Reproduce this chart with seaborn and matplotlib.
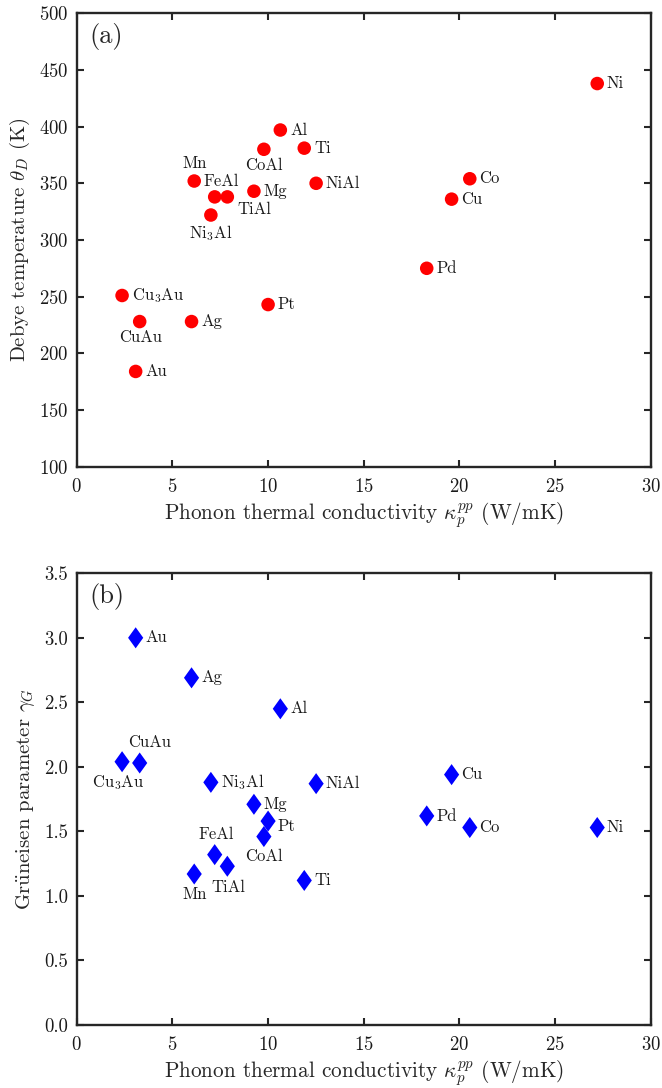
import matplotlib
matplotlib.use("Agg")
import matplotlib.pyplot as plt
import seaborn as sns
import numpy as np

materials = ["Ni", "Al", "CoAl", "Ti", "Mn", "FeAl", "TiAl", "Mg", "NiAl", "Ni$_3$Al",
             "Cu$_3$Au", "CuAu", "Ag", "Pt", "Au", "Co", "Cu", "Pd"]
kappa = [27.2, 10.64, 9.78, 11.89, 6.14, 7.21, 7.87, 9.26, 12.51, 7.01,
         2.37, 3.29, 6.0, 10.0, 3.08, 20.54, 19.59, 18.29]
debye = [438, 397, 380, 381, 352, 338, 338, 343, 350, 322,
         251, 228, 228, 243, 184, 354, 336, 275]
gruneisen = [1.53, 2.45, 1.46, 1.12, 1.17, 1.32, 1.23, 1.71, 1.87, 1.88,
             2.04, 2.03, 2.69, 1.58, 3.00, 1.53, 1.94, 1.62]

# label placement (offset in points, ha, va) per material for each panel
R = ((7, 0), "left", "center")
pos_a = {"Mn": ((0, 7), "center", "bottom"), "FeAl": ((5, 6), "center", "bottom"),
         "TiAl": ((7, -9), "left", "center"), "CoAl": ((0, -6), "center", "top"),
         "Ni$_3$Al": ((0, -6), "center", "top"), "CuAu": ((1, -6), "center", "top")}
pos_b = {"CuAu": ((7, 9), "center", "bottom"), "Cu$_3$Au": ((-3, -8), "center", "top"),
         "FeAl": ((1, 9), "center", "bottom"), "CoAl": ((0, -9), "center", "top"),
         "Pt": ((7, -4), "left", "center"), "TiAl": ((1, -10), "center", "top"),
         "Mn": ((0, -9), "center", "top")}

sns.set_style("ticks")
plt.rcParams["font.family"] = ["cmr10", "DejaVu Serif"]
plt.rcParams["mathtext.fontset"] = "cm"
plt.rcParams["axes.formatter.use_mathtext"] = True
plt.rcParams["axes.unicode_minus"] = False

fig = plt.figure(figsize=(6.62, 10.88), dpi=100)
ax1 = fig.add_axes([0.1159, 0.5711, 0.8672, 0.4167])
ax2 = fig.add_axes([0.1159, 0.0579, 0.8672, 0.4152])

sns.scatterplot(x=kappa, y=debye, ax=ax1, color="#ff0000", s=95, edgecolor="none",
                marker="o", legend=False, zorder=3)
diamond = [(0, 1), (0.72, 0), (0, -1), (-0.72, 0), (0, 1)]
sns.scatterplot(x=kappa, y=gruneisen, ax=ax2, color="#0000ff", s=230, edgecolor="none",
                marker=diamond, legend=False, zorder=3)

lab_fs = 12
for ax, yv, pos in ((ax1, debye, pos_a), (ax2, gruneisen, pos_b)):
    for m, xx, yy in zip(materials, kappa, yv):
        off, ha, va = pos.get(m, R)
        ax.annotate(m, (xx, yy), xytext=off, textcoords="offset points",
                    ha=ha, va=va, fontsize=lab_fs, color="#1a1a1a")

ax1.set_xlim(0, 30)
ax1.set_ylim(100, 500)
ax1.set_yticks(np.arange(100, 501, 50))
ax2.set_xlim(0, 30)
ax2.set_ylim(0, 3.5)
ax2.set_yticks(np.arange(0, 3.51, 0.5))
ax2.yaxis.set_major_formatter(matplotlib.ticker.FormatStrFormatter("%.1f"))

xlab = r"Phonon thermal conductivity $\kappa_p^{pp}$ (W/mK)"
ax1.set_xlabel(xlab, fontsize=15.3, labelpad=3)
ax2.set_xlabel(xlab, fontsize=15.3, labelpad=3)
ax1.set_ylabel(r"Debye temperature $\theta_D$ (K)", fontsize=15, labelpad=5)
ax2.set_ylabel(r"Gr$\ddot{\rm u}$neisen parameter $\gamma_G$", fontsize=15, labelpad=5)

for ax, tag in ((ax1, "(a)"), (ax2, "(b)")):
    ax.text(0.022, 0.978, tag, transform=ax.transAxes, ha="left", va="top", fontsize=19)
    ax.set_xticks(np.arange(0, 31, 5))
    ax.tick_params(direction="in", top=True, right=True, length=5, width=1.5,
                   labelsize=13.5, color="#262626", labelcolor="#1a1a1a")
    ax.tick_params(axis="x", pad=8)
    ax.tick_params(axis="y", pad=6)
    for sp in ax.spines.values():
        sp.set_linewidth(1.7)
        sp.set_color("#262626")

fig.savefig("out.png", dpi=100)
